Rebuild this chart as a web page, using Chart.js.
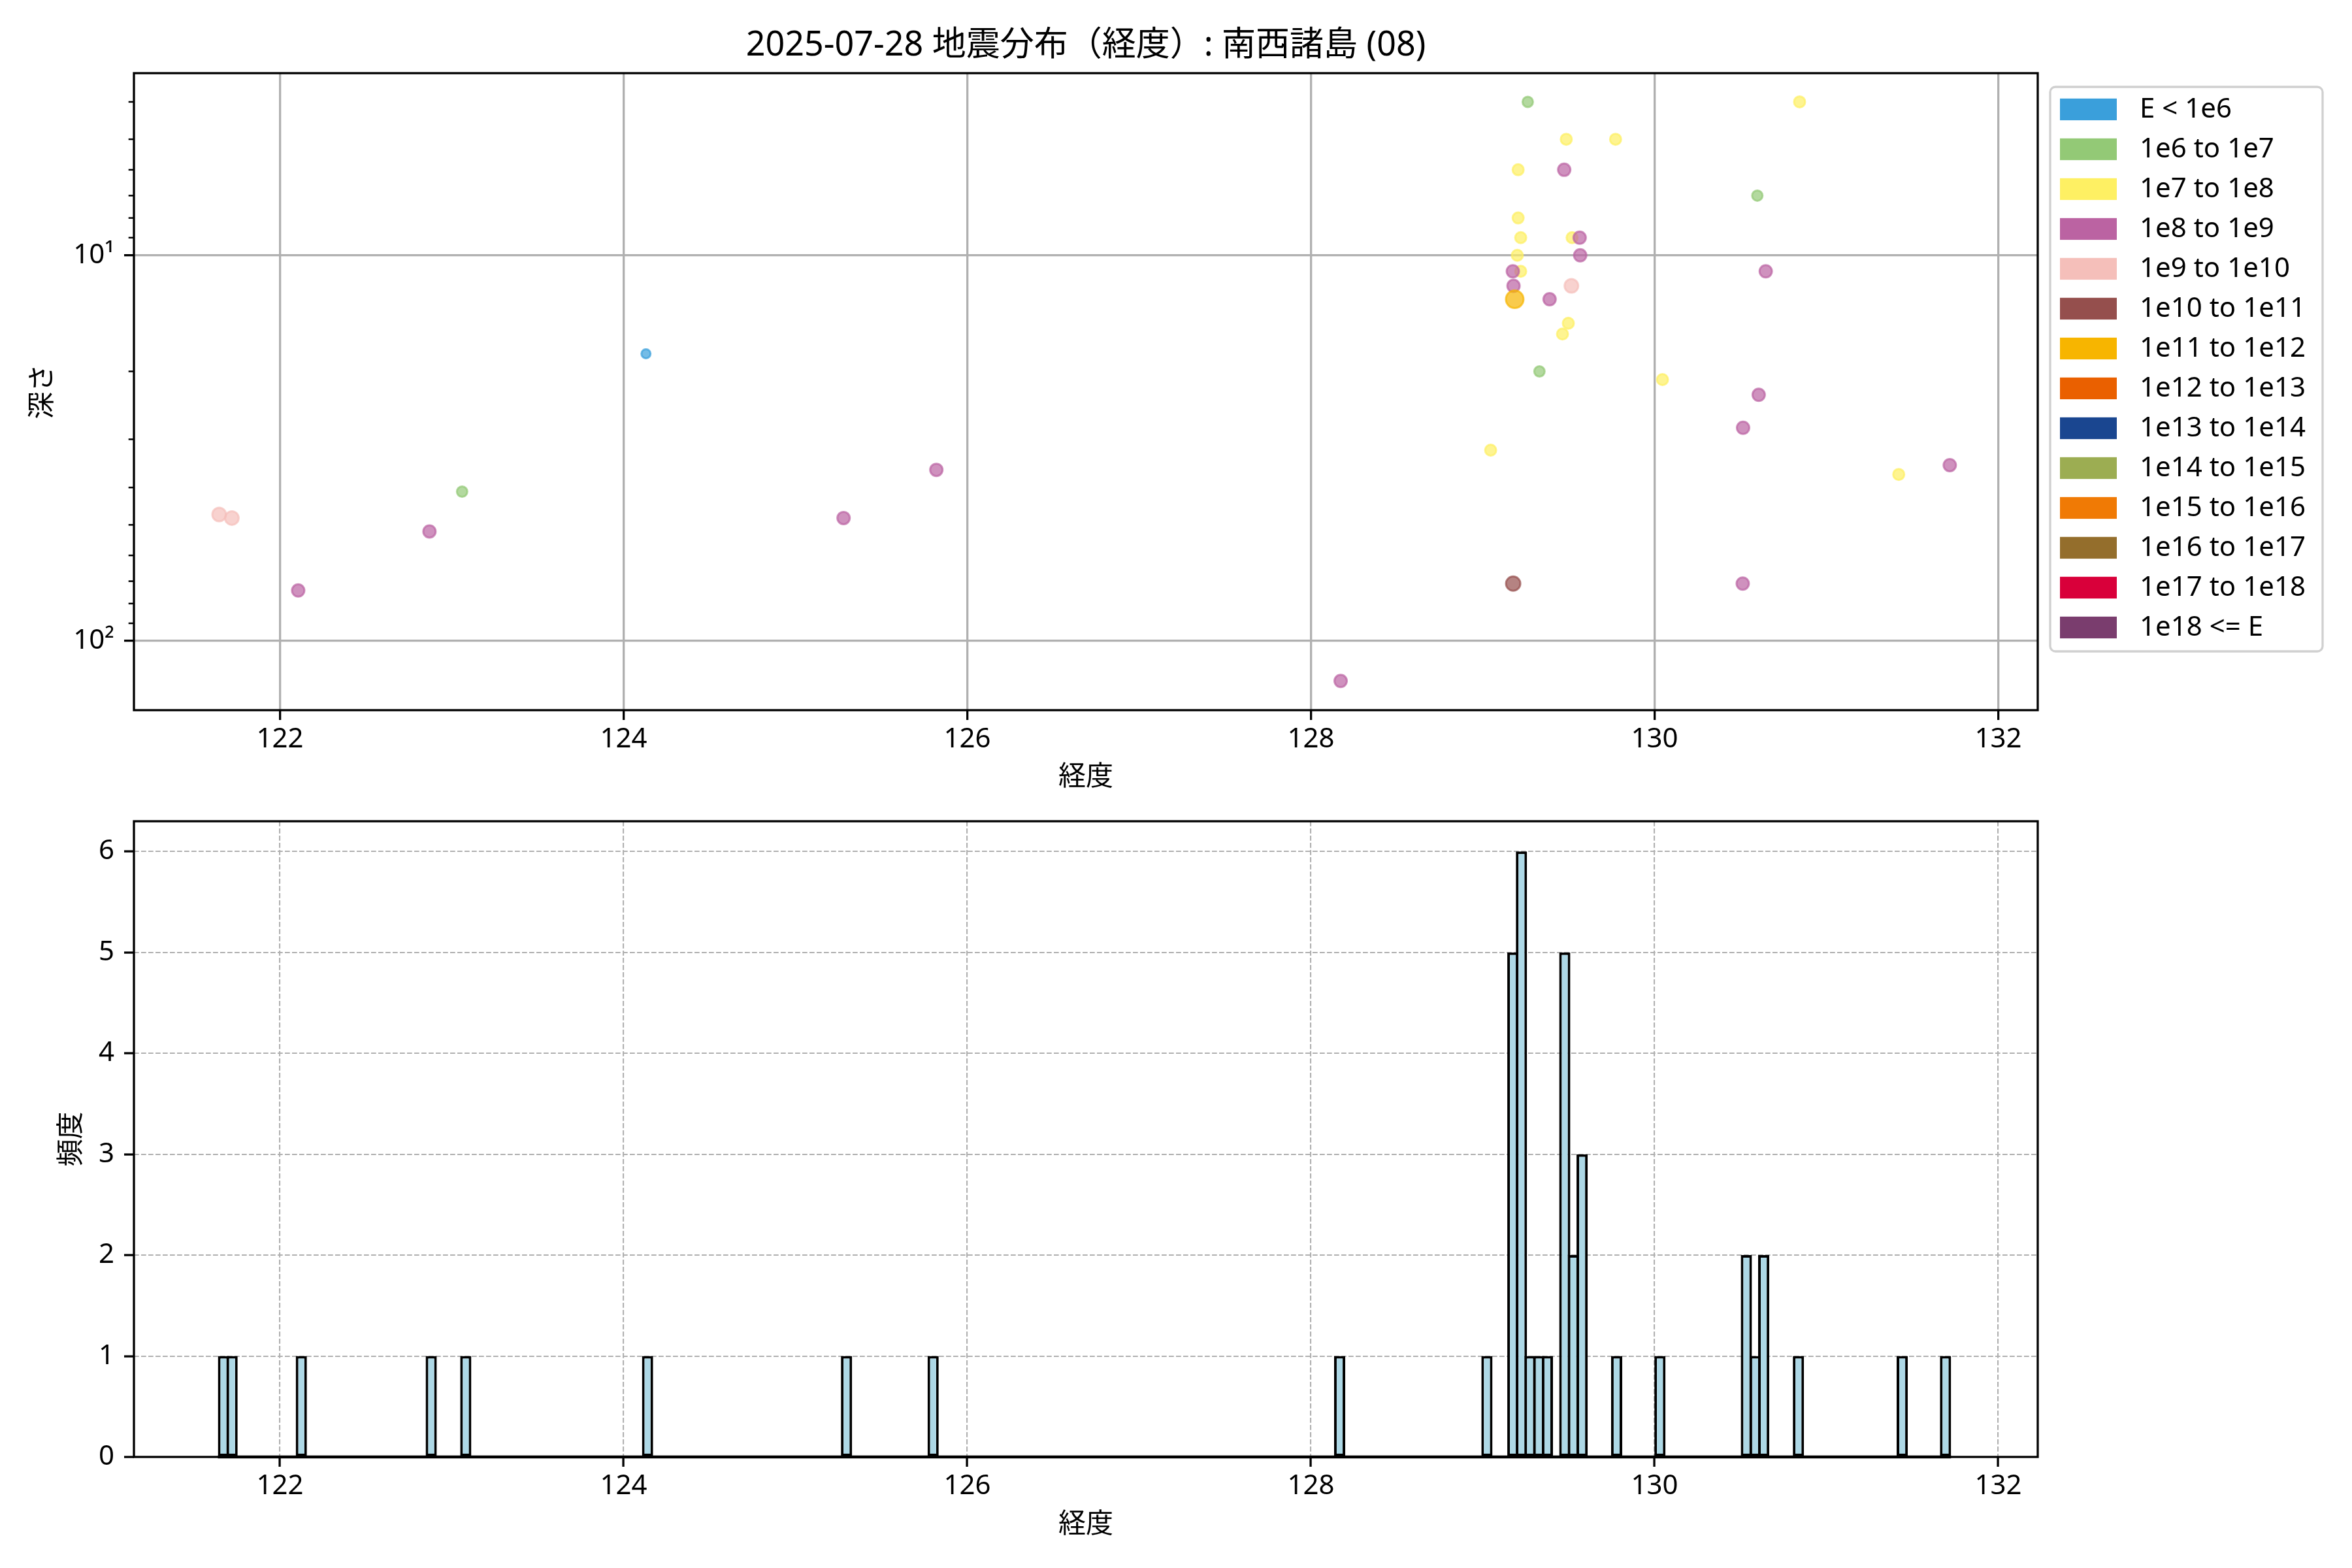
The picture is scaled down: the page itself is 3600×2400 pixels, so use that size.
<!DOCTYPE html>
<html>
<head>
<meta charset="utf-8" />
<title>地震分布（経度）</title>
<script src="https://cdn.jsdelivr.net/npm/chart.js"></script>
<style>
  body { margin: 0; background: #fff; }
  canvas { position: absolute; left: 0; }
  #scatterChart { top: 0; }
  #histChart { top: 1240px; }
</style>
</head>
<body>
<canvas id="scatterChart" width="3600" height="1240"></canvas>
<canvas id="histChart" width="3600" height="1160"></canvas>
<script>
const titleText = '2025-07-28 地震分布（経度）: 南西諸島 (08)';

// energy classes (legend order)
const classLabels = ['E < 1e6', '1e6 to 1e7', '1e7 to 1e8', '1e8 to 1e9', '1e9 to 1e10',
  '1e10 to 1e11', '1e11 to 1e12', '1e12 to 1e13', '1e13 to 1e14', '1e14 to 1e15',
  '1e15 to 1e16', '1e16 to 1e17', '1e17 to 1e18', '1e18 <= E'];
const classColors = ['#3a9fdb', '#93c976', '#fef063', '#bb63a2', '#f5bfba',
  '#954f4d', '#f7b500', '#ea6000', '#1a4690', '#9cad52',
  '#f07a05', '#946e2c', '#d9003a', '#7a3d6e'];
const markerRadius = [8.5, 9.5, 10, 11, 12, 12.5, 15, 16, 17, 18, 19, 20, 21, 22];

// epicentres per class: longitude / depth (km)
const eqLon = [
  [124.13],
  [123.06, 129.262, 130.598, 129.33],
  [130.844, 129.486, 129.773, 129.206, 129.206, 129.221, 129.52, 129.201, 129.221, 129.498, 129.464, 130.046, 129.046, 131.421],
  [122.106, 122.87, 125.28, 125.82, 129.474, 129.564, 129.567, 129.175, 130.647, 129.179, 129.389, 130.606, 130.515, 131.718, 130.513, 128.173],
  [121.646, 121.72, 129.516],
  [129.177],
  [129.186],
  [], [], [], [], [], [], []
];
const eqDepth = [
  [18],
  [41, 4, 7, 20],
  [4, 5, 5, 6, 8, 9, 9, 10, 11, 15, 16, 21, 32, 37],
  [74, 52, 48, 36, 6, 9, 10, 11, 11, 12, 13, 23, 28, 35, 71, 127],
  [47, 48, 12],
  [71],
  [13],
  [], [], [], [], [], [], []
];

// histogram: left edge of non-empty bins and their counts
const histBinWidth = 0.0504;
const histRange = [121.646, 131.718];
const histLeft = [121.646, 121.696, 122.099, 122.855, 123.056, 124.114, 125.272, 125.776, 128.142,
  128.999, 129.150, 129.200, 129.250, 129.301, 129.351, 129.452, 129.502, 129.553, 129.754,
  130.006, 130.509, 130.560, 130.610, 130.812, 131.416, 131.668];
const histCount = [1, 1, 1, 1, 1, 1, 1, 1, 1,
  1, 5, 6, 1, 1, 1, 5, 2, 3, 1,
  1, 2, 1, 2, 1, 1, 1];

// axes
const lonMin = 121.15, lonMax = 132.23;
const lonTicks = [122, 124, 126, 128, 130, 132];
const depthMin = 3.37, depthMax = 151.2;
const depthTicks = [10, 100];
const depthTickLabels = ['10¹', '10²'];
const depthMinorTicks = [4, 5, 6, 7, 8, 9, 20, 30, 40, 50, 60, 70, 80, 90];
const countTicks = [0, 1, 2, 3, 4, 5, 6];
const countMax = 6.3;

const font = '"Noto Sans", "Noto Sans CJK JP", sans-serif';
Chart.defaults.font.family = font;
Chart.defaults.font.size = 42;
Chart.defaults.color = '#000';

function rgba(hex, a) {
  const n = parseInt(hex.slice(1), 16);
  return `rgba(${n >> 16},${(n >> 8) & 255},${n & 255},${a})`;
}

// fixed axis boxes, no extra label padding
function fitY(s) { s.width = 205; s.paddingTop = 0; s.paddingBottom = 0; }
function fitX(s) { s.height = 130; s.paddingLeft = 0; s.paddingRight = 0; }

// full box around the plot area, like matplotlib spines
const framePlugin = {
  id: 'frame',
  afterDraw(chart) {
    const a = chart.chartArea, ctx = chart.ctx;
    ctx.save();
    ctx.strokeStyle = '#000';
    ctx.lineWidth = 3.3;
    ctx.strokeRect(a.left, a.top, a.right - a.left, a.bottom - a.top);
    ctx.restore();
  }
};

const minorTickPlugin = {
  id: 'minorTicks',
  afterDraw(chart) {
    const a = chart.chartArea, ctx = chart.ctx, y = chart.scales.y;
    ctx.save();
    ctx.strokeStyle = '#000';
    ctx.lineWidth = 2.5;
    depthMinorTicks.forEach(v => {
      const py = y.getPixelForValue(v);
      ctx.beginPath();
      ctx.moveTo(a.left - 8.3, py);
      ctx.lineTo(a.left, py);
      ctx.stroke();
    });
    ctx.restore();
  }
};

const titleLegendPlugin = {
  id: 'titleLegend',
  afterDraw(chart) {
    const a = chart.chartArea, ctx = chart.ctx;
    ctx.save();
    ctx.fillStyle = '#000';
    ctx.font = `52px ${font}`;
    ctx.textAlign = 'center';
    ctx.textBaseline = 'middle';
    ctx.fillText(titleText, (a.left + a.right) / 2, 70);

    // legend box
    const lx = a.right + 19, ly = 133, lw = 417, lh = 864;
    ctx.beginPath();
    ctx.roundRect(lx, ly, lw, lh, 8);
    ctx.fillStyle = 'rgba(255,255,255,0.8)';
    ctx.fill();
    ctx.strokeStyle = '#d0d0d0';
    ctx.lineWidth = 3.3;
    ctx.stroke();
    ctx.font = `42px ${font}`;
    ctx.textAlign = 'left';
    classLabels.forEach((label, i) => {
      const cy = 167.5 + 61 * i;
      ctx.fillStyle = classColors[i];
      ctx.fillRect(lx + 15, cy - 16.7, 87, 33.3);
      ctx.fillStyle = '#000';
      ctx.fillText(label, lx + 137, cy + 1);
    });
    ctx.restore();
  }
};

const baselinePlugin = {
  id: 'baseline',
  afterDatasetsDraw(chart) {
    const ctx = chart.ctx, x = chart.scales.x, y = chart.scales.y;
    const py = y.getPixelForValue(0);
    ctx.save();
    ctx.strokeStyle = '#000';
    ctx.lineWidth = 4.5;
    ctx.beginPath();
    ctx.moveTo(x.getPixelForValue(histRange[0]) - 2, py);
    ctx.lineTo(x.getPixelForValue(histRange[1]) + 2, py);
    ctx.stroke();
    ctx.restore();
  }
};

// top: depth vs longitude scatter
new Chart(document.getElementById('scatterChart'), {
  type: 'scatter',
  data: {
    datasets: classLabels.map((label, i) => ({
      label,
      data: eqLon[i].map((x, k) => ({ x, y: eqDepth[i][k] })),
      backgroundColor: rgba(classColors[i], 0.7),
      borderColor: rgba(classColors[i], 0.7),
      borderWidth: 3,
      pointRadius: markerRadius[i] - 1.5,
      order: -i
    }))
  },
  options: {
    responsive: false,
    animation: false,
    devicePixelRatio: 1,
    layout: { padding: { left: 0, top: 112, right: 481, bottom: 23 } },
    plugins: { legend: { display: false }, tooltip: { enabled: false } },
    scales: {
      x: {
        type: 'linear', min: lonMin, max: lonMax,
        afterBuildTicks: s => { s.ticks = lonTicks.map(v => ({ value: v })); },
        afterFit: fitX,
        grid: { color: '#b0b0b0', lineWidth: 3.3, tickColor: '#000', tickWidth: 3.3, tickLength: 15 },
        border: { display: false },
        ticks: { padding: 5, maxRotation: 0, autoSkip: false },
        title: { display: true, text: '経度', padding: { top: 0, bottom: 2 } }
      },
      y: {
        type: 'logarithmic', reverse: true, min: depthMin, max: depthMax,
        afterBuildTicks: s => { s.ticks = depthTicks.map(v => ({ value: v, major: true })); },
        afterFit: fitY,
        grid: { color: '#b0b0b0', lineWidth: 3.3, tickColor: '#000', tickWidth: 3.3, tickLength: 15 },
        border: { display: false },
        ticks: {
          padding: 15, autoSkip: false,
          callback: v => depthTickLabels[depthTicks.indexOf(v)] ?? ''
        },
        title: { display: true, text: '深さ', padding: { top: 41, bottom: 0 } }
      }
    }
  },
  plugins: [framePlugin, minorTickPlugin, titleLegendPlugin]
});

// bottom: longitude histogram
const dashedGrid = { color: '#b0b0b0', lineWidth: 2.1, tickColor: '#000', tickWidth: 3.3, tickLength: 15, tickBorderDash: [], offset: false };
new Chart(document.getElementById('histChart'), {
  type: 'bar',
  data: {
    datasets: [{
      data: histLeft.map((x, i) => ({ x: x + histBinWidth / 2, y: histCount[i] })),
      backgroundColor: '#add8e6',
      borderColor: '#000',
      borderWidth: 4,
      borderSkipped: false,
      barPercentage: 1.3,
      categoryPercentage: 1
    }]
  },
  options: {
    responsive: false,
    animation: false,
    devicePixelRatio: 1,
    layout: { padding: { left: 0, top: 17, right: 481, bottom: 40 } },
    plugins: { legend: { display: false }, tooltip: { enabled: false } },
    scales: {
      x: {
        type: 'linear', min: lonMin, max: lonMax, offset: false, z: 1,
        afterBuildTicks: s => { s.ticks = lonTicks.map(v => ({ value: v })); },
        afterFit: fitX,
        grid: dashedGrid,
        border: { display: false, dash: [7.7, 3.3] },
        ticks: { padding: 5, maxRotation: 0, autoSkip: false },
        title: { display: true, text: '経度', padding: { top: 0, bottom: 1 } }
      },
      y: {
        type: 'linear', min: 0, max: countMax, z: 1,
        afterBuildTicks: s => { s.ticks = countTicks.map(v => ({ value: v })); },
        afterFit: fitY,
        grid: dashedGrid,
        border: { display: false, dash: [7.7, 3.3] },
        ticks: { padding: 15, autoSkip: false },
        title: { display: true, text: '頻度', padding: { top: 85, bottom: 0 } }
      }
    }
  },
  plugins: [baselinePlugin, framePlugin]
});
</script>
</body>
</html>
